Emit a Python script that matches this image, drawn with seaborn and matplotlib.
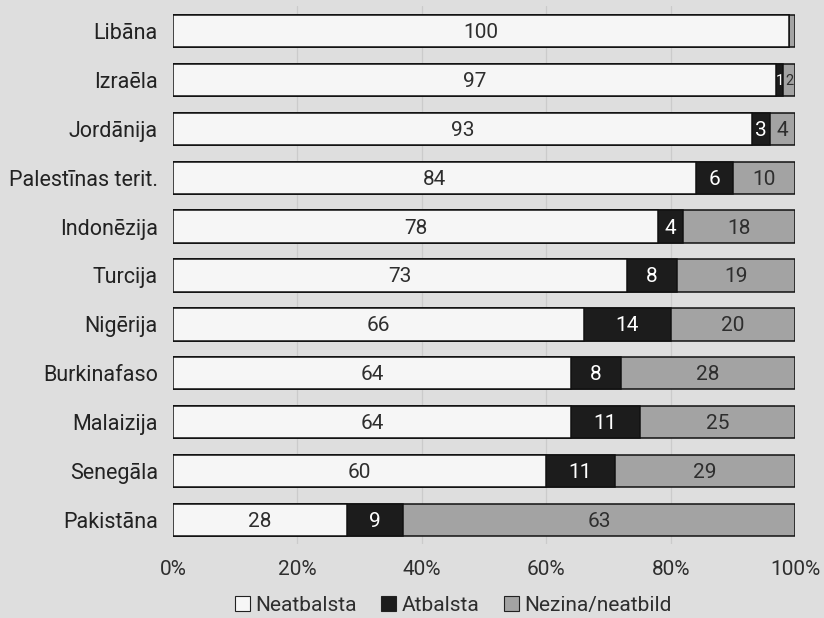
import numpy as np
import pandas as pd
import seaborn as sns
import matplotlib.pyplot as plt
from matplotlib.patches import Patch

# data (percent)
countries = ['Libāna', 'Izraēla', 'Jordānija', 'Palestīnas terit.', 'Indonēzija',
             'Turcija', 'Nigērija', 'Burkinafaso', 'Malaizija', 'Senegāla', 'Pakistāna']
neatbalsta = [99, 97, 93, 84, 78, 73, 66, 64, 64, 60, 28]
atbalsta = [0, 1, 3, 6, 4, 8, 14, 8, 11, 11, 9]
nezina = [1, 2, 4, 10, 18, 19, 20, 28, 25, 29, 63]
# printed labels (Libāna rounds to 100)
neat_labels = ['100', '97', '93', '84', '78', '73', '66', '64', '64', '60', '28']
atb_labels = ['', '1', '3', '6', '4', '8', '14', '8', '11', '11', '9']
nez_labels = ['', '2', '4', '10', '18', '19', '20', '28', '25', '29', '63']

df = pd.DataFrame({'country': countries, 'neat': neatbalsta, 'atb': atbalsta, 'nez': nezina})
df['c1'] = df['neat']
df['c2'] = df['neat'] + df['atb']
df['c3'] = df['c2'] + df['nez']

bg = '#dedede'
c_white = '#f6f6f6'
c_black = '#1c1c1c'
c_gray = '#a3a3a3'

sns.set_theme(style='white')
plt.rcParams['font.family'] = ['Roboto', 'DejaVu Sans']

fig = plt.figure(figsize=(8.24, 6.18), dpi=100, facecolor=bg)
ax = fig.add_axes([0.21, 0.119, 0.755, 0.8705])
ax.set_facecolor(bg)

for xv in [20, 40, 60, 80]:
    ax.axvline(xv, color='#cbcbcb', lw=0.9, zorder=0)

# stacked by overdrawing cumulative totals
for col, colr in [('c3', c_gray), ('c2', c_black), ('c1', c_white)]:
    sns.barplot(data=df, y='country', x=col, orient='h', color=colr, ax=ax,
                width=0.66, edgecolor='#111111', linewidth=1.1, saturation=1, zorder=2)

fs = 15
for i in range(len(countries)):
    n, a, z = neatbalsta[i], atbalsta[i], nezina[i]
    ax.text(n / 2, i + 0.03, neat_labels[i], ha='center', va='center', fontsize=fs, color='#2e2e2e', zorder=5)
    if atb_labels[i]:
        ax.text(n + a / 2, i + 0.03, atb_labels[i], ha='center', va='center',
                fontsize=fs if a >= 3 else 10.5, color='white', zorder=5)
    if nez_labels[i]:
        ax.text(n + a + z / 2, i + 0.03, nez_labels[i], ha='center', va='center',
                fontsize=fs if z >= 3 else 10.5, color='#2e2e2e', zorder=5)

ax.set_xlim(0, 100)
ax.set_ylim(10.5, -0.5)
ax.set_xticks([0, 20, 40, 60, 80, 100])
ax.set_xticklabels(['0%', '20%', '40%', '60%', '80%', '100%'])
ax.set_xlabel('')
ax.set_ylabel('')
ax.tick_params(axis='x', labelsize=15, colors='#2e2e2e', length=0, pad=11)
ax.tick_params(axis='y', labelsize=15.5, colors='#222222', length=0, pad=11)
for s in ax.spines.values():
    s.set_visible(False)

handles = [Patch(facecolor=c_white, edgecolor='#222222', lw=0.8, label='Neatbalsta'),
           Patch(facecolor=c_black, edgecolor='#222222', lw=0.8, label='Atbalsta'),
           Patch(facecolor=c_gray, edgecolor='#222222', lw=0.8, label='Nezina/neatbild')]
fig.legend(handles=handles, loc='center', bbox_to_anchor=(0.55, 0.021), ncol=3, frameon=False,
           fontsize=15, handlelength=0.7, handleheight=0.7, handletextpad=0.25,
           columnspacing=1.2, labelcolor='#2e2e2e')

fig.savefig('out.png', dpi=100, facecolor=bg)
